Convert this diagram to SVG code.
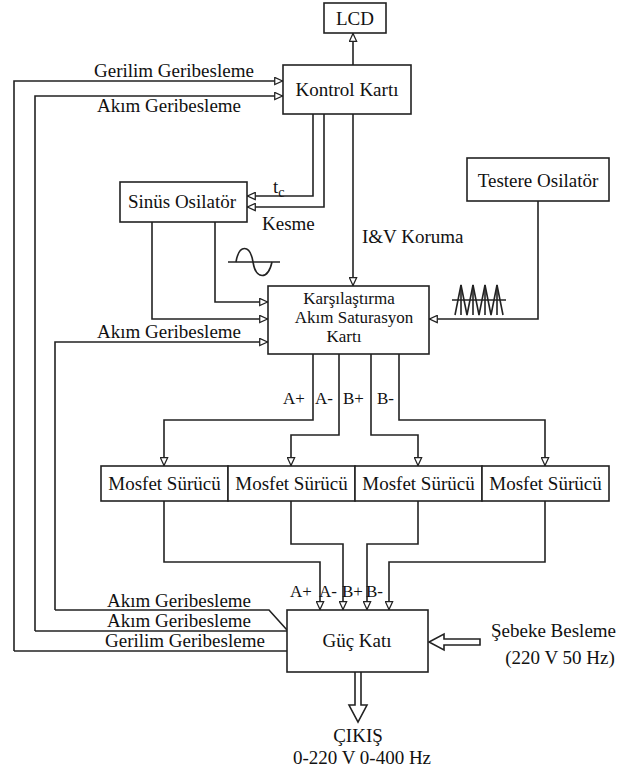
<svg xmlns="http://www.w3.org/2000/svg" width="626" height="772" viewBox="0 0 626 772">
<style>
.box{fill:#fff;stroke:#222;stroke-width:1.6}
.ln{fill:none;stroke:#222;stroke-width:1.6}
.ar{fill:none;stroke:#222;stroke-width:1.6;marker-end:url(#ah)}
text{font-family:"Liberation Serif","Times New Roman",serif;font-size:19px;fill:#111}
.c{text-anchor:middle}
.s{font-size:17px}
.k{font-size:17px}
</style>
<defs>
<marker id="ah" viewBox="0 0 10 10" refX="10" refY="5" markerWidth="10" markerHeight="9" markerUnits="userSpaceOnUse" orient="auto">
<path d="M0.8,1 L9.5,5 L0.8,9 Z" fill="#fff" stroke="#222" stroke-width="1.4"/>
</marker>
</defs>
<rect width="626" height="772" fill="#fff"/>

<g id="connectors">
<path class="ar" d="M353,65 V33"/>
<path class="ar" d="M14,651 V81 H283"/>
<path class="ar" d="M35,631 V96 H283"/>
<path class="ar" d="M313,114 V196 H247"/>
<path class="ar" d="M324,114 V207 H247"/>
<path class="ar" d="M353,114 V286"/>
<path class="ar" d="M215,222 V302 H268"/>
<path class="ar" d="M152,222 V319 H268"/>
<path class="ar" d="M55,610 V342 H268"/>
<path class="ar" d="M538,201 V319 H429"/>
<path class="ar" d="M313,354 V420 H164 V466"/>
<path class="ar" d="M339,354 V435 H291 V466"/>
<path class="ar" d="M371,354 V435 H418 V466"/>
<path class="ar" d="M399,354 V420 H545 V466"/>
<path class="ar" d="M164,501 V562 H320 V610"/>
<path class="ar" d="M291,501 V544 H343 V610"/>
<path class="ar" d="M418,501 V544 H367 V610"/>
<path class="ar" d="M545,501 V562 H389 V610"/>
<path class="ln" d="M55,610 H269 L287,630"/>
<path class="ln" d="M35,631 H287"/>
<path class="ln" d="M14,651 H287"/>
<path class="ln" d="M480,639 H444 V634 L429,642 L444,650 V645 H480 Z" fill="#fff"/>
<path class="ln" d="M355,672 V705 H349 L358,722 L367,705 H361 V672" fill="#fff"/>
<path class="ln" d="M228,262 H280"/>
<path class="ln" d="M236,262 C239,244 250,244 253,262 C256,280 268,280 272,262"/>
<path class="ln" d="M452,300 H506"/>
<path class="ln" d="M455,315 L461,285 L467,315 L473,285 L479,315 L485,285 L491,315 L497,285 L503,315"/>
<path class="ln" d="M461,285 V315 M473,285 V315 M485,285 V315 M497,285 V315" stroke-width="1"/>
</g>

<g id="lcd"><rect class="box" x="324" y="3" width="62" height="30"/><text class="c" x="355" y="25">LCD</text></g>
<g id="kontrol"><rect class="box" x="283" y="65" width="128" height="49"/><text class="c" x="347" y="96">Kontrol Kartı</text></g>
<g id="sinus"><rect class="box" x="120" y="182" width="127" height="40"/><text class="c" x="182" y="208">Sinüs Osilatör</text></g>
<g id="testere"><rect class="box" x="467" y="158" width="142" height="43"/><text class="c" x="538" y="187">Testere Osilatör</text></g>
<g id="karsilastirma"><rect class="box" x="268" y="286" width="161" height="68"/>
<text class="c k" x="349" y="304">Karşılaştırma</text>
<text class="c k" x="354" y="323">Akım Saturasyon</text>
<text class="c k" x="344" y="342">Kartı</text></g>
<g id="mosfet1"><rect class="box" x="101" y="466" width="127" height="35"/><text class="c" x="164.5" y="490">Mosfet Sürücü</text></g>
<g id="mosfet2"><rect class="box" x="228" y="466" width="127" height="35"/><text class="c" x="291.5" y="490">Mosfet Sürücü</text></g>
<g id="mosfet3"><rect class="box" x="355" y="466" width="127" height="35"/><text class="c" x="418.5" y="490">Mosfet Sürücü</text></g>
<g id="mosfet4"><rect class="box" x="482" y="466" width="127" height="35"/><text class="c" x="545.5" y="490">Mosfet Sürücü</text></g>
<g id="guc"><rect class="box" x="287" y="610" width="141" height="62"/><text class="c" x="357" y="647">Güç Katı</text></g>

<g id="labels">
<text x="94" y="77">Gerilim Geribesleme</text>
<text x="97" y="112">Akım Geribesleme</text>
<text x="273" y="193">t<tspan font-size="14" dy="4">c</tspan></text>
<text x="262" y="230">Kesme</text>
<text x="362" y="243">I&amp;V Koruma</text>
<text x="97" y="338">Akım Geribesleme</text>
<text class="s" x="283" y="404">A+</text>
<text class="s" x="315" y="404">A-</text>
<text class="s" x="343" y="404">B+</text>
<text class="s" x="377" y="404">B-</text>
<text class="s" x="290" y="597">A+</text>
<text class="s" x="319" y="597">A-</text>
<text class="s" x="342" y="597">B+</text>
<text class="s" x="366" y="597">B-</text>
<text x="107" y="607">Akım Geribesleme</text>
<text x="107" y="627">Akım Geribesleme</text>
<text x="105" y="647">Gerilim Geribesleme</text>
<text x="491" y="637">Şebeke Besleme</text>
<text class="c" x="560" y="664">(220 V 50 Hz)</text>
<text class="c" x="358" y="742">ÇIKIŞ</text>
<text class="c" x="362" y="764">0-220 V 0-400 Hz</text>
</g>
</svg>
